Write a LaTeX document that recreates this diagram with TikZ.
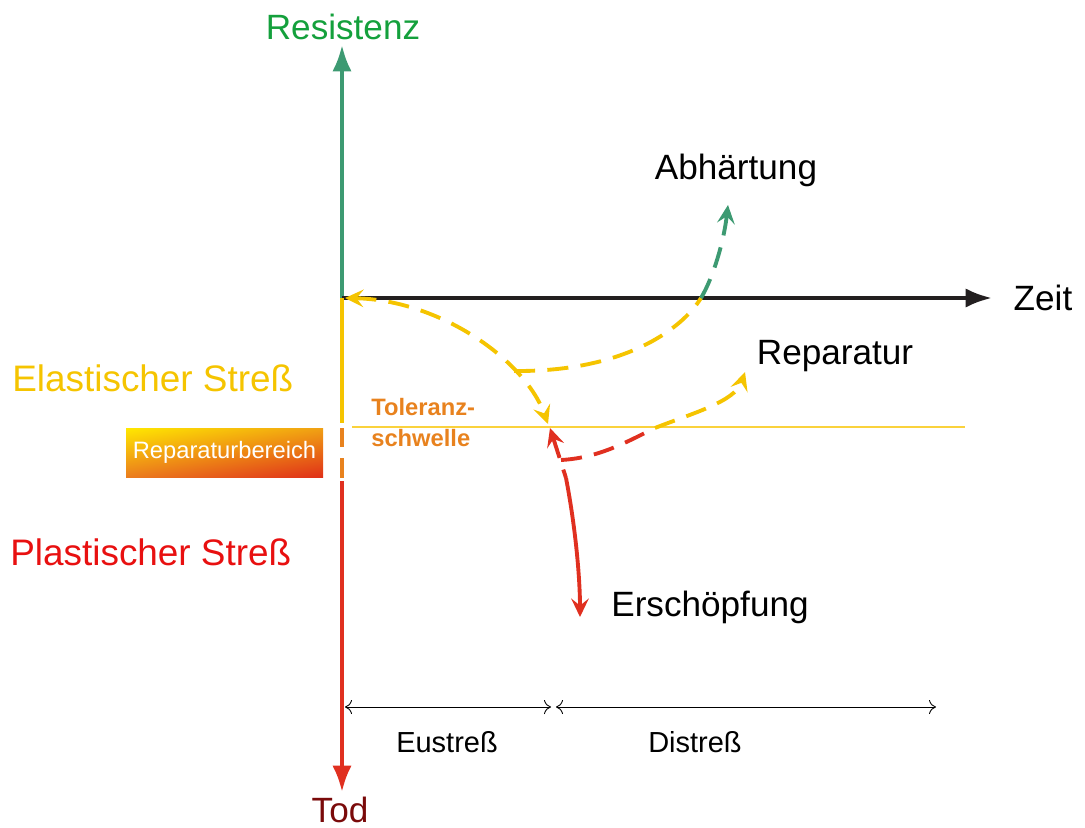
\documentclass[tikz,border=0pt]{standalone}
\usepackage{fontspec}
\setmainfont{Liberation Sans}
\usetikzlibrary{arrows.meta,shadings}
\definecolor{axgreen}{RGB}{61,154,114}
\definecolor{txgreen}{RGB}{20,160,60}
\definecolor{syellow}{RGB}{245,196,0}
\definecolor{tyellow}{RGB}{250,210,60}
\definecolor{sorange}{RGB}{232,130,30}
\definecolor{sred}{RGB}{224,48,32}
\definecolor{txred}{RGB}{232,16,16}
\definecolor{todred}{RGB}{122,10,10}
\definecolor{axblack}{RGB}{35,31,32}
\definecolor{gUL}{RGB}{255,232,0}
\definecolor{gUR}{RGB}{240,160,20}
\definecolor{gLL}{RGB}{235,125,30}
\definecolor{gLR}{RGB}{224,48,24}
\tikzset{
  big/.style={font=\fontsize{20}{24}\selectfont},
  side/.style={font=\fontsize{21}{25}\selectfont},
  small/.style={font=\fontsize{16.5}{19}\selectfont},
  axis/.style={line width=2.3pt},
  bighead/.style={-{Latex[length=15pt,width=11pt]}},
  dsh/.style={line width=2.2pt, dash pattern=on 12pt off 7pt},
  dtip/.tip={Stealth[length=10.5pt,width=10pt,inset=4pt]},
  span/.style={line width=0.5pt, {To[length=4pt,width=8pt]}-{To[length=4pt,width=8pt]}}
}
\begin{document}
\begin{tikzpicture}[x=0.02cm,y=-0.02cm]
\useasboundingbox (0,0) rectangle (1085,828);
% coordinates
\coordinate (O) at (342,298);
\coordinate (top) at (342,45);
\coordinate (yEnd) at (342,423);
\coordinate (o1a) at (342,428);
\coordinate (o1b) at (342,447);
\coordinate (o2a) at (342,458);
\coordinate (o2b) at (342,478);
\coordinate (rA) at (342,481);
\coordinate (bot) at (342,792);
\coordinate (xEnd) at (992,298);
\coordinate (tolA) at (352,427);
\coordinate (tolB) at (965,427);
% axes
\draw[axis, axgreen, bighead] (O) -- (top);
\draw[axis, axblack, bighead] (O) -- (xEnd);
\draw[axis, syellow] (O) -- (yEnd);
\draw[axis, sorange] (o1a) -- (o1b);
\draw[axis, sorange] (o2a) -- (o2b);
\draw[axis, sred, bighead] (rA) -- (bot);
\draw[line width=0.9pt, tyellow] (tolA) -- (tolB);
% axis labels
\node[big, text=txgreen] (res) at (343,27) {Resistenz};
\node[big, text=todred] (tod) at (340,810) {Tod};
\node[big, text=black] (zeit) at (1043,298) {Zeit};
\node[side, text=syellow, anchor=west, inner sep=0pt] (ela) at (12,378) {Elastischer Streß};
\node[side, text=txred, anchor=west, inner sep=0pt] (pla) at (10,552) {Plastischer Streß};
\node[minimum width=197*0.02cm, minimum height=49*0.02cm, inner sep=0pt,
  upper left=gUL, upper right=gUR, lower left=gLL, lower right=gLR,
  text=white, font=\fontsize{13.5}{16}\selectfont] (rb) at (224.5,452.5) {Reparaturbereich};
\node[text=sorange, anchor=north west, inner sep=0pt, align=left,
  font=\bfseries\fontsize{13.5}{17.6}\selectfont] (tol) at (371,398) {Toleranz-\\schwelle};
% points on curves
\coordinate (A) at (345,298);
\coordinate (B) at (548,424);
\coordinate (C) at (514,371);
\coordinate (D) at (701,298);
\coordinate (E) at (728,205);
\coordinate (F) at (561,460);
\coordinate (G) at (655,428);
\coordinate (H) at (745,372);
\coordinate (R1) at (550,428);
\coordinate (R2) at (566,478);
\coordinate (R3) at (580,617);
% curves
\draw[dsh, syellow, dtip-dtip] (A) .. controls (440,300) and (525,360) .. (B);
\draw[dsh, syellow] (C) .. controls (620,372) and (680,332) .. (D);
\draw[dsh, axgreen, -dtip] (D) .. controls (714,276) and (724,240) .. (E);
\draw[dsh, sred] (F) .. controls (600,458) and (630,440) .. (G);
\draw[dsh, syellow, -dtip] (G) .. controls (690,414) and (735,402) .. (H);
\draw[dsh, sred, dtip-] (R1) -- (R2);
\draw[line width=2.2pt, sred, -dtip] (R2) .. controls (576,530) and (580,580) .. (R3);
% outcome labels
\node[big] (abh) at (736,170) {Abhärtung};
\node[big] (rep) at (835,356) {Reparatur};
\node[big] (ers) at (710,607) {Erschöpfung};
% spans
\coordinate (s1) at (345,707);
\coordinate (s2) at (551,707);
\coordinate (s3) at (556,707);
\coordinate (s4) at (936,707);
\draw[span] (s1) -- (s2);
\draw[span] (s3) -- (s4);
\node[small] (eu) at (447,742) {Eustreß};
\node[small] (dis) at (695,742) {Distreß};
\end{tikzpicture}
\end{document}
